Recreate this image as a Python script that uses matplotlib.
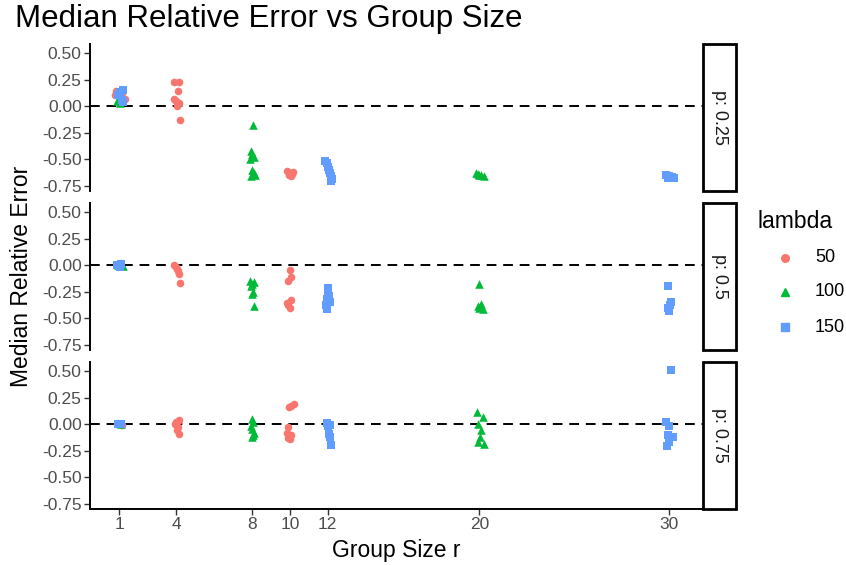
import matplotlib
matplotlib.use("Agg")
import matplotlib.pyplot as plt
from matplotlib.patches import Rectangle
from matplotlib.lines import Line2D

plt.rcParams.update({
    "font.family": ["Liberation Sans", "DejaVu Sans"],
})

RED = "#F8766D"
GREEN = "#00BA38"
BLUE = "#619CFF"

# facet labels and tick positions
p_labels = ["p: 0.25", "p: 0.5", "p: 0.75"]
r_ticks = [1, 4, 8, 10, 12, 20, 30]
y_ticks = [0.50, 0.25, 0.00, -0.25, -0.50, -0.75]
lambdas = ["50", "100", "150"]

# jittered group size (x) and median relative error (y), per p and lambda
x_p25_l50 = [0.8, 0.75, 1.3, 1.15, 3.9, 4.15, 4.1, 3.9, 4.0, 4.15, 4.05, 4.2,
             9.85, 10.0, 10.1, 9.95, 10.15, 10.05]
y_p25_l50 = [0.14, 0.10, 0.07, 0.12, 0.23, 0.23, 0.14, 0.07, 0.05, 0.03, 0.0, -0.13,
             -0.61, -0.63, -0.64, -0.65, -0.62, -0.66]
x_p25_l100 = [0.95, 0.85, 1.05, 8.05, 7.95, 8.0, 8.1, 7.9, 8.0, 8.1, 8.15, 7.95,
              19.8, 19.95, 20.1, 20.25, 20.0]
y_p25_l100 = [0.13, 0.05, 0.03, -0.18, -0.42, -0.45, -0.48, -0.50, -0.60, -0.63, -0.65, -0.66,
              -0.63, -0.64, -0.65, -0.66, -0.65]
x_p25_l150 = [1.2, 1.05, 0.95, 1.15, 1.2, 11.85, 11.95, 12.0, 12.05, 12.1, 12.15, 12.2, 12.15,
              29.85, 30.0, 30.15, 30.25, 29.95]
y_p25_l150 = [0.15, 0.13, 0.10, 0.06, 0.04, -0.52, -0.54, -0.57, -0.60, -0.63, -0.66, -0.69, -0.71,
              -0.65, -0.66, -0.67, -0.68, -0.68]

x_p50_l50 = [0.9, 0.95, 1.05, 3.9, 4.0, 4.05, 4.1, 4.15, 4.2,
             10.0, 10.05, 9.9, 10.05, 9.85, 9.9, 10.0]
y_p50_l50 = [0.0, -0.01, 0.01, 0.0, -0.02, -0.04, -0.06, -0.08, -0.17,
             -0.05, -0.11, -0.15, -0.33, -0.36, -0.38, -0.40]
x_p50_l100 = [1.1, 0.95, 1.2, 7.9, 8.1, 8.0, 7.95, 8.05, 8.0, 8.1,
              20.0, 20.1, 19.9, 20.0, 20.2]
y_p50_l100 = [0.02, 0.0, -0.01, -0.15, -0.16, -0.18, -0.20, -0.25, -0.27, -0.39,
              -0.18, -0.37, -0.39, -0.40, -0.41]
x_p50_l150 = [1.1, 0.9, 1.05, 12.0, 12.0, 12.05, 11.95, 12.1, 11.9, 11.95,
              29.95, 30.1, 30.05, 29.95, 30.0]
y_p50_l150 = [0.01, 0.0, -0.02, -0.22, -0.25, -0.29, -0.32, -0.35, -0.38, -0.41,
              -0.20, -0.35, -0.38, -0.40, -0.43]

x_p75_l50 = [0.85, 1.15, 4.15, 4.0, 3.95, 4.1, 4.05, 4.15,
             9.95, 10.05, 10.2, 9.9, 9.85, 10.05, 9.9, 10.0]
y_p75_l50 = [0.0, -0.01, 0.04, 0.02, 0.0, -0.03, -0.06, -0.09,
             0.16, 0.17, 0.19, -0.03, -0.08, -0.10, -0.13, -0.14]
x_p75_l100 = [0.95, 1.1, 8.0, 8.05, 7.95, 8.0, 8.1, 8.05, 8.0,
              19.85, 20.2, 19.95, 20.1, 20.05, 19.9, 20.25]
y_p75_l100 = [0.01, 0.0, 0.05, 0.02, -0.02, -0.05, -0.08, -0.10, -0.12,
              0.11, 0.07, 0.0, -0.06, -0.12, -0.17, -0.19]
x_p75_l150 = [0.95, 1.1, 11.95, 12.1, 12.0, 12.05, 12.1, 12.15,
              30.1, 29.85, 30.0, 29.95, 30.2, 30.0, 29.9]
y_p75_l150 = [0.0, 0.0, 0.01, -0.01, -0.02, -0.09, -0.12, -0.20,
              0.51, 0.02, -0.02, -0.10, -0.12, -0.17, -0.21]

panels = [
    [(x_p25_l50, y_p25_l50), (x_p25_l100, y_p25_l100), (x_p25_l150, y_p25_l150)],
    [(x_p50_l50, y_p50_l50), (x_p50_l100, y_p50_l100), (x_p50_l150, y_p50_l150)],
    [(x_p75_l50, y_p75_l50), (x_p75_l100, y_p75_l100), (x_p75_l150, y_p75_l150)],
]
styles = [(RED, "o", 30), (GREEN, "^", 38), (BLUE, "s", 26)]

W, H = 846, 565
fig = plt.figure(figsize=(W / 100, H / 100), dpi=100)

left, right = 90, 703
strip_w = 33
tops = [44, 203, 362]
ph = 147

for i, (top, series) in enumerate(zip(tops, panels)):
    ax = fig.add_axes([left / W, 1 - (top + ph) / H, (right - left) / W, ph / H])
    ax.axhline(0, color="black", ls=(0, (5, 3.5)), lw=1.4, zorder=1)
    for (xs, ys), (c, m, s) in zip(series, styles):
        ax.scatter(xs, ys, color=c, marker=m, s=s, linewidths=0, zorder=2)
    ax.set_xlim(-0.55, 31.8)
    ax.set_ylim(-0.8, 0.585)
    ax.set_yticks(y_ticks)
    ax.set_yticklabels([f"{v:.2f}" for v in y_ticks])
    ax.tick_params(axis="y", labelsize=12.5, labelcolor="#4D4D4D", length=4, width=1,
                   color="#333333", pad=2)
    for sp in ["top", "right"]:
        ax.spines[sp].set_visible(False)
    ax.spines["left"].set_linewidth(1.4)
    if i < 2:
        ax.spines["bottom"].set_visible(False)
        ax.set_xticks([])
    else:
        ax.spines["bottom"].set_linewidth(1.4)
        ax.set_xticks(r_ticks)
        ax.tick_params(axis="x", labelsize=12.5, labelcolor="#4D4D4D", length=4, width=1,
                       color="#333333", pad=2)

    # facet strip on the right
    sax = fig.add_axes([right / W, 1 - (top + ph) / H, strip_w / W, ph / H])
    sax.set_xlim(0, 1)
    sax.set_ylim(0, 1)
    sax.axis("off")
    sax.add_patch(Rectangle((0, 0), 1, 1, facecolor="white", edgecolor="black", lw=2,
                            transform=sax.transAxes, clip_on=False))
    sax.text(0.5, 0.5, p_labels[i], rotation=-90, ha="center", va="center",
             fontsize=13, color="#1A1A1A")

fig.text(15 / W, 1 - 19 / H, "Median Relative Error vs Group Size", fontsize=22.5,
         ha="left", va="center")
fig.text(22 / W, 1 - 276 / H, "Median Relative Error", rotation=90, fontsize=16.5,
         ha="center", va="center")
fig.text((left + right) / 2 / W, 1 - 550 / H, "Group Size r", fontsize=16.5,
         ha="center", va="center")

# legend
fig.text(757 / W, 1 - 221 / H, "lambda", fontsize=16.5, ha="left", va="center")
for (c, m, s), lab, yy in zip(styles, lambdas, [258, 292, 327]):
    fig.lines.append(Line2D([785 / W], [1 - yy / H], transform=fig.transFigure,
                            marker=m, color=c, markersize=s ** 0.5, linestyle="none"))
    fig.text(815 / W, 1 - yy / H, lab, fontsize=13, ha="left", va="center")

fig.savefig("out.png", dpi=100)
